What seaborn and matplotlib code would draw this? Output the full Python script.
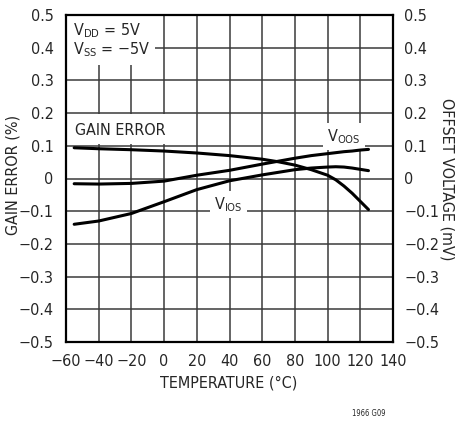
import matplotlib
matplotlib.use("Agg")
import matplotlib.pyplot as plt
import seaborn as sns
import pandas as pd

# ---- data ----
temperature = [-55, -40, -20, 0, 20, 40, 60, 70, 80, 90, 100, 105, 110, 115, 120, 125]
gain_error = [0.094, 0.091, 0.088, 0.084, 0.078, 0.070, 0.059, 0.051, 0.041, 0.027,
              0.010, -0.004, -0.023, -0.045, -0.070, -0.095]
v_oos = [-0.016, -0.017, -0.015, -0.008, 0.010, 0.025, 0.044, 0.053, 0.062, 0.070,
         0.076, 0.079, 0.082, 0.084, 0.087, 0.089]
v_ios = [-0.140, -0.130, -0.107, -0.071, -0.034, -0.007, 0.011, 0.019, 0.027, 0.032,
         0.035, 0.036, 0.035, 0.032, 0.028, 0.024]

x_ticks = [-60, -40, -20, 0, 20, 40, 60, 80, 100, 120, 140]
y_ticks = [-0.5, -0.4, -0.3, -0.2, -0.1, 0, 0.1, 0.2, 0.3, 0.4, 0.5]
y_tick_labels = ["−0.5", "−0.4", "−0.3", "−0.2", "−0.1", "0", "0.1", "0.2", "0.3", "0.4", "0.5"]

df = pd.DataFrame({"temp": temperature, "gain": gain_error, "voos": v_oos, "vios": v_ios})

# ---- style (condensed face, like the datasheet lettering) ----
sns.set_style("white")
plt.rcParams["font.family"] = ["DejaVu Sans"]
plt.rcParams["font.stretch"] = "condensed"
plt.rcParams["mathtext.fontset"] = "custom"
plt.rcParams["mathtext.rm"] = "DejaVu Sans:stretch=condensed"
FS = 11.5
W, H = 461, 421

fig = plt.figure(figsize=(W / 100, H / 100), dpi=100)
ax = fig.add_axes([66 / W, 1 - 342 / H, 327 / W, 327 / H])

for col in ["gain", "voos", "vios"]:
    sns.lineplot(data=df, x="temp", y=col, ax=ax, color="black", linewidth=2.2, zorder=3)

ax.set_xlim(-60, 140)
ax.set_ylim(-0.5, 0.5)
ax.set_xticks(x_ticks)
ax.set_yticks(y_ticks)
ax.set_yticklabels(y_tick_labels)
ax.grid(True, color="#3a3a3a", linewidth=1.1)
ax.set_axisbelow(True)
ax.tick_params(axis="both", length=0, labelsize=FS, pad=9)
ax.set_xlabel("")
ax.set_ylabel("")
for s in ax.spines.values():
    s.set_color("black")
    s.set_linewidth(1.6)

ax2 = ax.twinx()
ax2.set_ylim(-0.5, 0.5)
ax2.set_yticks(y_ticks)
ax2.set_yticklabels(y_tick_labels)
ax2.tick_params(axis="y", length=0, labelsize=FS, pad=8)
for s in ax2.spines.values():
    s.set_visible(False)

# axis titles
fig.text(229 / W, 1 - 383 / H, "TEMPERATURE (°C)", fontsize=FS, ha="center", va="center")
fig.text(13.5 / W, 1 - 175 / H, "GAIN ERROR (%)", fontsize=FS, ha="center", va="center",
         rotation=90)
fig.text(447 / W, 1 - 179 / H, "OFFSET VOLTAGE (mV)", fontsize=FS, ha="center", va="center",
         rotation=270)

# ---- annotations (white knock-outs behind the labels, as in the datasheet) ----
ax.axhspan(0.347, 0.5, xmin=0, xmax=0.272, color="white", lw=0, zorder=1)
ax.axhspan(0.104, 0.196, xmin=0, xmax=0.31, color="white", lw=0, zorder=1)

ax.text(-55.5, 0.452, "V$_{\\mathregular{DD}}$ = 5V", fontsize=FS, ha="left", va="center", zorder=2)
ax.text(-55.5, 0.393, "V$_{\\mathregular{SS}}$ = −5V", fontsize=FS, ha="left", va="center", zorder=2)
ax.text(-54.5, 0.148, "GAIN ERROR", fontsize=FS, ha="left", va="center", zorder=2)

white = dict(facecolor="white", edgecolor="none", pad=3)
ax.text(110, 0.127, "V$_{\\mathregular{OOS}}$", fontsize=FS, ha="center", va="center",
        bbox=white, zorder=2)
ax.text(39.5, -0.080, "V$_{\\mathregular{IOS}}$", fontsize=FS, ha="center", va="center",
        bbox=white, zorder=2)

fig.text(369 / W, 1 - 414 / H, "1966 G09", fontsize=5.5, ha="center", va="center")

fig.savefig("out.png", dpi=100)
